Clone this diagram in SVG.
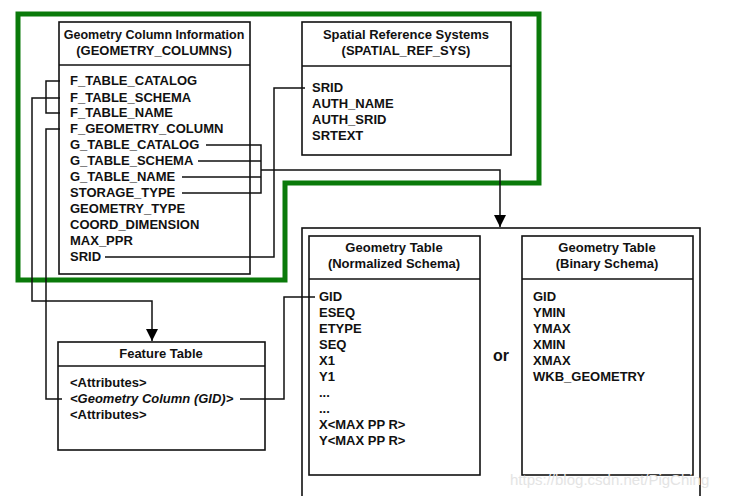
<svg xmlns="http://www.w3.org/2000/svg" width="730" height="496" viewBox="0 0 730 496">
<defs>
<marker id="ah" viewBox="0 0 10 10" refX="10" refY="5" markerWidth="8" markerHeight="8" orient="auto"><path d="M0,0L10,5L0,10z" fill="#000"/></marker>
<style>
text{font-family:"Liberation Sans",Arial,sans-serif;font-size:13px;font-weight:bold;fill:#111}
.t{text-anchor:middle}
.box{fill:none;stroke:#111;stroke-width:1.6}
.ln{fill:none;stroke:#111;stroke-width:1.5}
</style>
</defs>
<rect width="730" height="496" fill="#fff"/>
<path d="M18,14H539V183H285V280H18Z" fill="none" stroke="#0a7a0a" stroke-width="5"/>
<g id="geometry_columns">
<rect class="box" x="59" y="22" width="191" height="252"/>
<line class="box" x1="59" y1="65" x2="250" y2="65"/>
<text class="t" x="154" y="39" style="font-size:12.5px">Geometry Column Information</text>
<text class="t" x="154" y="55">(GEOMETRY_COLUMNS)</text>
<text x="70" y="85">F_TABLE_CATALOG</text>
<text x="70" y="102">F_TABLE_SCHEMA</text>
<text x="70" y="117">F_TABLE_NAME</text>
<text x="70" y="133">F_GEOMETRY_COLUMN</text>
<text x="70" y="149">G_TABLE_CATALOG</text>
<text x="70" y="165">G_TABLE_SCHEMA</text>
<text x="70" y="181">G_TABLE_NAME</text>
<text x="70" y="197">STORAGE_TYPE</text>
<text x="70" y="213">GEOMETRY_TYPE</text>
<text x="70" y="229">COORD_DIMENSION</text>
<text x="70" y="245">MAX_PPR</text>
<text x="70" y="261">SRID</text>
</g>
<g id="spatial_ref_sys">
<rect class="box" x="302" y="22" width="209" height="133"/>
<line class="box" x1="302" y1="66" x2="511" y2="66"/>
<text class="t" x="406" y="39">Spatial Reference Systems</text>
<text class="t" x="406" y="55">(SPATIAL_REF_SYS)</text>
<text x="312" y="92">SRID</text>
<text x="312" y="108">AUTH_NAME</text>
<text x="312" y="124">AUTH_SRID</text>
<text x="312" y="140">SRTEXT</text>
</g>
<g id="feature_table">
<rect class="box" x="58" y="342" width="207" height="108"/>
<line class="box" x1="58" y1="366" x2="265" y2="366"/>
<text class="t" x="161" y="358">Feature Table</text>
<text x="70" y="387">&lt;Attributes&gt;</text>
<text x="70" y="403" font-style="italic">&lt;Geometry Column (GID)&gt;</text>
<text x="70" y="419">&lt;Attributes&gt;</text>
</g>
<g id="geometry_tables">
<rect class="box" x="302" y="228" width="398" height="280"/>
</g>
<g id="geometry_normalized">
<rect class="box" x="309" y="236" width="171" height="239"/>
<line class="box" x1="309" y1="279" x2="480" y2="279"/>
<text class="t" x="394" y="252">Geometry Table</text>
<text class="t" x="394" y="268">(Normalized Schema)</text>
<text x="319" y="301">GID</text>
<text x="319" y="317">ESEQ</text>
<text x="319" y="333">ETYPE</text>
<text x="319" y="349">SEQ</text>
<text x="319" y="365">X1</text>
<text x="319" y="381">Y1</text>
<text x="319" y="397">...</text>
<text x="319" y="413">...</text>
<text x="319" y="429">X&lt;MAX PP R&gt;</text>
<text x="319" y="445">Y&lt;MAX PP R&gt;</text>
</g>
<g id="or_label"><text class="t" x="501" y="361" style="font-size:16px">or</text></g>
<g id="geometry_binary">
<rect class="box" x="522" y="236" width="171" height="239"/>
<line class="box" x1="522" y1="279" x2="693" y2="279"/>
<text class="t" x="607" y="252">Geometry Table</text>
<text class="t" x="607" y="268">(Binary Schema)</text>
<text x="533" y="301">GID</text>
<text x="533" y="317">YMIN</text>
<text x="533" y="333">YMAX</text>
<text x="533" y="349">XMIN</text>
<text x="533" y="365">XMAX</text>
<text x="533" y="381">WKB_GEOMETRY</text>
</g>
<g id="connectors">
<path class="ln" d="M60,81H46V113H60"/>
<path class="ln" d="M60,98H32V301H152V341" marker-end="url(#ah)"/>
<path class="ln" d="M60,129H46V399H62"/>
<path class="ln" d="M206,145H261V193H182M198,161H261M182,177H261"/>
<path class="ln" d="M261,170H500V227" marker-end="url(#ah)"/>
<path class="ln" d="M105,257H274V88H305"/>
<path class="ln" d="M240,399H284V297H315"/>
</g>
<text x="510" y="485" style="font-weight:normal;font-size:15px;fill:#e4e4e4">https://blog.csdn.net/PigChing</text>
</svg>
